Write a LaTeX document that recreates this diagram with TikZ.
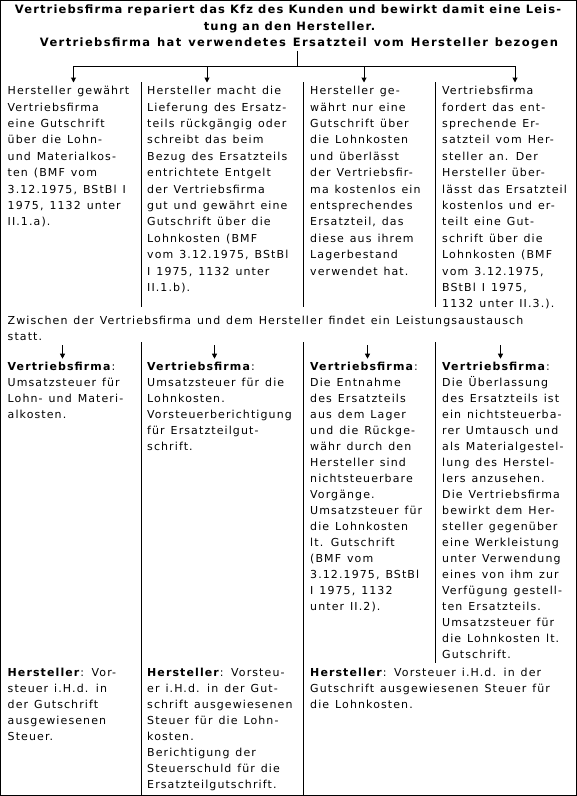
\documentclass[tikz,border=0pt]{standalone}
\usepackage{fontspec}
\setmainfont{DejaVu Sans}[LetterSpace=10,WordSpace=1.3]
\newfontfamily\titlefont{DejaVu Sans}[LetterSpace=10]
\newfontfamily\titlefontb{DejaVu Sans}[LetterSpace=12,WordSpace=1.3]
\usetikzlibrary{arrows.meta}
\newcommand\cellstrut{\vrule height 12bp depth 0pt width 0pt\relax}
\begin{document}
\begin{tikzpicture}[x=1bp,y=-1bp,
  cell/.style={anchor=north west,inner sep=0pt,align=left,font=\fontsize{11bp}{16bp}\selectfont},
  cellA/.style={cell,font=\fontsize{11bp}{16.4bp}\selectfont},
  ttl/.style={anchor=base,inner sep=0pt,font=\titlefont\bfseries\fontsize{11.5bp}{16bp}\selectfont},
  ttlb/.style={anchor=base,inner sep=0pt,font=\titlefontb\bfseries\fontsize{11.5bp}{16bp}\selectfont},
  rulel/.style={line width=1bp},
  arr/.style={line width=1bp,-{Triangle[length=5bp,width=5bp]}}]
\useasboundingbox (0,0) rectangle (577,796);
\draw[rulel] (0.5,0.5) rectangle (576.5,795.5);

% title
\node[ttl] (t1) at (288,14) {Vertriebsfirma repariert das Kfz des Kunden und bewirkt damit eine Leis-};
\node[ttl] (t2) at (289.5,30.3) {tung an den Hersteller.};
\node[ttlb] (t3) at (299,46.7) {Vertriebsfirma hat verwendetes Ersatzteil vom Hersteller bezogen};

% tree connector
\coordinate (stemtop) at (297.5,51);
\coordinate (fork) at (297.5,66.5);
\coordinate (h1) at (73.5,66.5);
\coordinate (h2) at (207,66.5);
\coordinate (h3) at (364,66.5);
\coordinate (h4) at (515,66.5);
\draw[rulel] (stemtop) -- (fork);
\draw[rulel] (h1) -- (h4);

% section 1 cells
\node[cellA] (c11) at (7.5,82.5) {\cellstrut Hersteller gewährt\\Vertriebsfirma\\eine Gutschrift\\über die Lohn-\\und Materialkos-\\ten (BMF vom\\3.12.1975, BStBl I\\1975, 1132 unter\\II.1.a).};
\node[cellA] (c12) at (147,82.5) {\cellstrut Hersteller macht die\\Lieferung des Ersatz-\\teils rückgängig oder\\schreibt das beim\\Bezug des Ersatzteils\\entrichtete Entgelt\\der Vertriebsfirma\\gut und gewährt eine\\Gutschrift über die\\Lohnkosten (BMF\\vom 3.12.1975, BStBl\\I 1975, 1132 unter\\II.1.b).};
\node[cellA] (c13) at (310,82.5) {\cellstrut Hersteller ge-\\währt nur eine\\Gutschrift über\\die Lohnkosten\\und überlässt\\der Vertriebsfir-\\ma kostenlos ein\\entsprechendes\\Ersatzteil, das\\diese aus ihrem\\Lagerbestand\\verwendet hat.};
\node[cellA] (c14) at (442,82.5) {\cellstrut Vertriebsfirma\\fordert das ent-\\sprechende Er-\\satzteil vom Her-\\steller an. Der\\Hersteller über-\\lässt das Ersatzteil\\kostenlos und er-\\teilt eine Gut-\\schrift über die\\Lohnkosten (BMF\\vom 3.12.1975,\\BStBl I 1975,\\1132 unter II.3.).};

\draw[arr] (h1) -- (h1 |- c11.north);
\draw[arr] (h2) -- (h2 |- c12.north);
\draw[arr] (h3) -- (h3 |- c13.north);
\draw[arr] (h4) -- (h4 |- c14.north);

% section 1 separators
\draw[rulel] (141,82) -- (141,307);
\draw[rulel] (303.5,82) -- (303.5,307);
\draw[rulel] (435,82) -- (435,307);

% middle text
\node[cell] (mid) at (7.5,312) {\cellstrut Zwischen der Vertriebsfirma und dem Hersteller findet ein Leistungsaustausch\\statt.};

% section 3 cells
\node[cell] (c31) at (7.5,358.7) {\cellstrut\textbf{Vertriebsfirma}:\\Umsatzsteuer für\\Lohn- und Materi-\\alkosten.};
\node[cell] (c32) at (147,358.7) {\cellstrut\textbf{Vertriebsfirma}:\\Umsatzsteuer für die\\Lohnkosten.\\Vorsteuerberichtigung\\für Ersatzteilgut-\\schrift.};
\node[cell] (c33) at (310,358.7) {\cellstrut\textbf{Vertriebsfirma}:\\Die Entnahme\\des Ersatzteils\\aus dem Lager\\und die Rückge-\\währ durch den\\Hersteller sind\\nichtsteuerbare\\Vorgänge.\\Umsatzsteuer für\\die Lohnkosten\\lt. Gutschrift\\(BMF vom\\3.12.1975, BStBl\\I 1975, 1132\\unter II.2).};
\node[cell] (c34) at (442,358.7) {\cellstrut\textbf{Vertriebsfirma}:\\Die Überlassung\\des Ersatzteils ist\\ein nichtsteuerba-\\rer Umtausch und\\als Materialgestel-\\lung des Herstel-\\lers anzusehen.\\Die Vertriebsfirma\\bewirkt dem Her-\\steller gegenüber\\eine Werkleistung\\unter Verwendung\\eines von ihm zur\\Verfügung gestell-\\ten Ersatzteils.\\Umsatzsteuer für\\die Lohnkosten lt.\\Gutschrift.};

\coordinate (m1) at (62.5,345);
\coordinate (m2) at (214.5,345);
\coordinate (m3) at (367.5,345);
\coordinate (m4) at (500.5,345);
\draw[arr] (m1) -- (m1 |- c31.north);
\draw[arr] (m2) -- (m2 |- c32.north);
\draw[arr] (m3) -- (m3 |- c33.north);
\draw[arr] (m4) -- (m4 |- c34.north);

% lower separators
\draw[rulel] (141,342) -- (141,795);
\draw[rulel] (303.5,342) -- (303.5,795);
\draw[rulel] (435,342) -- (435,663);

% section 4 cells
\node[cell] (c41) at (7.5,664.7) {\cellstrut\textbf{Hersteller}: Vor-\\steuer i.H.d. in\\der Gutschrift\\ausgewiesenen\\Steuer.};
\node[cell] (c42) at (147,664.7) {\cellstrut\textbf{Hersteller}: Vorsteu-\\er i.H.d. in der Gut-\\schrift ausgewiesenen\\Steuer für die Lohn-\\kosten.\\Berichtigung der\\Steuerschuld für die\\Ersatzteilgutschrift.};
\node[cell] (c43) at (310,664.7) {\cellstrut\textbf{Hersteller}: Vorsteuer i.H.d. in der\\Gutschrift ausgewiesenen Steuer für\\die Lohnkosten.};
\end{tikzpicture}
\end{document}
